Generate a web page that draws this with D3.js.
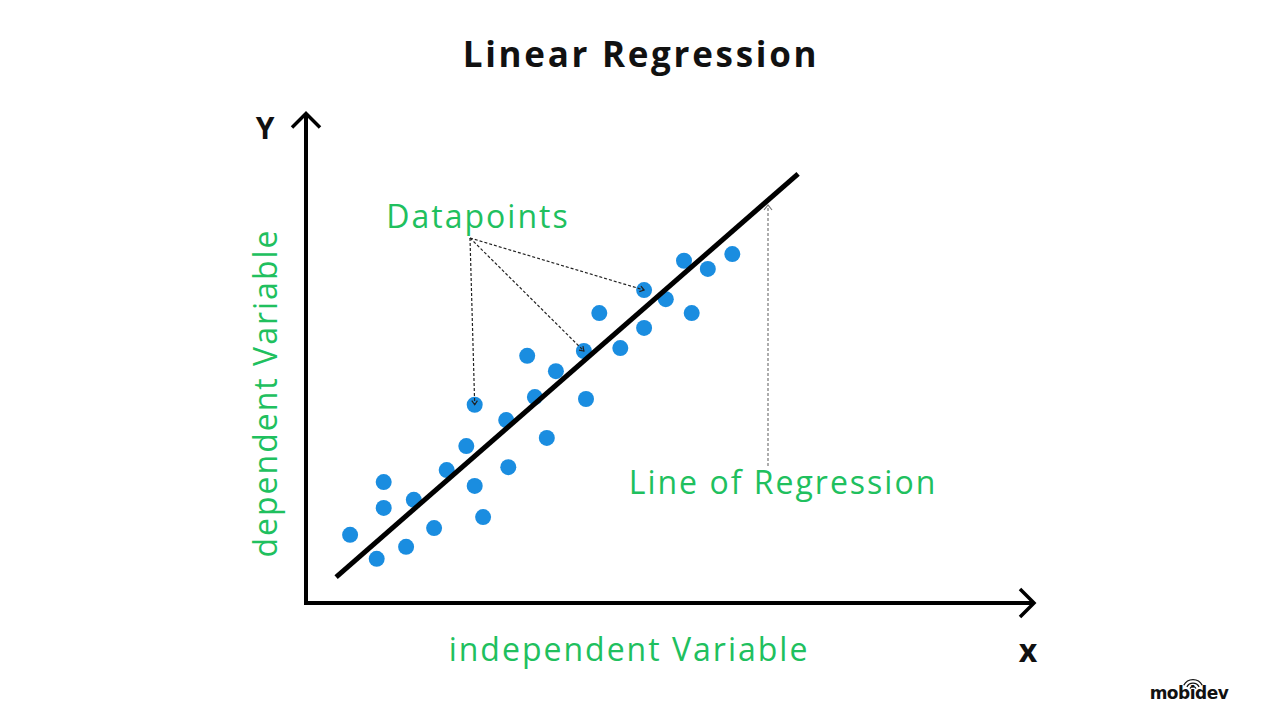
<!DOCTYPE html>
<html><head><meta charset="utf-8">
<script src="https://cdn.jsdelivr.net/npm/d3@7"></script>
<style>body{margin:0;background:#fff}svg{display:block}</style>
</head><body>
<svg id="c" width="1280" height="720"></svg>
<script>
const pointsX = [6.3,10.1,11.1,11.1,14.3,15.4,18.3,20.1,22.9,24.1,24.1,25.3,28.6,28.9,31.6,32.7,34.4,35.7,39.7,40.0,41.9,44.9,48.3,48.3,51.4,54.0,55.1,57.4,60.9];
const pointsY = [14.2,9.2,25.2,19.8,11.7,21.5,15.6,27.7,32.7,41.3,24.4,17.9,38.1,28.3,51.5,42.9,34.4,48.3,52.5,42.5,60.4,53.1,65.2,57.3,63.3,71.3,60.4,69.6,72.7];
const lineX = [4.3, 70.3];
const lineY = [5.4, 89.4];
const annotatedIdx = [9, 18, 22];
const title = "Linear Regression";

const svg = d3.select("#c");
const green = "#20c05e", blue = "#1a8de0";
const x = d3.scaleLinear().domain([0,100]).range([306,1006]);
const y = d3.scaleLinear().domain([0,100]).range([603,123]);
const F = "'Open Sans', sans-serif";

svg.append("text").attr("x",641).attr("y",67).attr("text-anchor","middle")
  .attr("font-family",F).attr("font-weight",700).attr("font-size",35).attr("letter-spacing",2.7).attr("fill","#111").text(title);

// axes
const ax = svg.append("g").attr("stroke","#000").attr("fill","none").attr("stroke-linecap","butt");
ax.append("path").attr("d",`M${x(0)},${y(0)+1.5}V${y(102)}`).attr("stroke-width",4);
ax.append("path").attr("d",`M${x(0)-2},${y(0)}H${x(104)}`).attr("stroke-width",4);
ax.append("path").attr("d",`M${x(0)-14},${y(102)+14}L${x(0)},${y(102)}L${x(0)+14},${y(102)+14}`).attr("stroke-width",3.5);
ax.append("path").attr("d",`M${x(104)-14},${y(0)-14}L${x(104)},${y(0)}L${x(104)-14},${y(0)+14}`).attr("stroke-width",3.5);

svg.append("text").attr("x",265).attr("y",139).attr("text-anchor","middle").attr("font-family",F)
  .attr("font-weight",700).attr("font-size",30).attr("fill","#111").text("Y");
svg.append("text").attr("x",1028).attr("y",662).attr("text-anchor","middle").attr("font-family",F)
  .attr("font-weight",700).attr("font-size",32).attr("fill","#111").text("x");

svg.append("text").attr("x",629).attr("y",661).attr("text-anchor","middle").attr("font-family",F)
  .attr("font-size",32).attr("letter-spacing",2).attr("fill",green).text("independent Variable");
svg.append("text").attr("transform","translate(277,393) rotate(-90)").attr("text-anchor","middle").attr("font-family",F)
  .attr("font-size",32).attr("letter-spacing",2).attr("fill",green).text("dependent Variable");

// points
svg.append("g").selectAll("circle").data(pointsX).join("circle")
  .attr("cx",(d)=>x(d)).attr("cy",(d,i)=>y(pointsY[i])).attr("r",8).attr("fill",blue);

// regression line
svg.append("line").attr("x1",x(lineX[0])).attr("y1",y(lineY[0])).attr("x2",x(lineX[1])).attr("y2",y(lineY[1]))
  .attr("stroke","#000").attr("stroke-width",5);

// annotations
svg.append("text").attr("x",478).attr("y",228).attr("text-anchor","middle").attr("font-family",F)
  .attr("font-size",32).attr("letter-spacing",2).attr("fill",green).text("Datapoints");
const ox = 470, oy = 238;
const ann = svg.append("g").attr("stroke","#222").attr("fill","none").attr("stroke-width",1.2);
annotatedIdx.forEach(i => {
  const tx = x(pointsX[i]), ty = y(pointsY[i]);
  const ang = Math.atan2(ty-oy, tx-ox);
  ann.append("line").attr("x1",ox).attr("y1",oy).attr("x2",tx).attr("y2",ty).attr("stroke-dasharray","3,2");
  const a = 5;
  ann.append("path").attr("d",`M${tx-a*Math.cos(ang-0.6)},${ty-a*Math.sin(ang-0.6)}L${tx},${ty}L${tx-a*Math.cos(ang+0.6)},${ty-a*Math.sin(ang+0.6)}`);
});
svg.append("text").attr("x",783).attr("y",494).attr("text-anchor","middle").attr("font-family",F)
  .attr("font-size",32).attr("letter-spacing",2).attr("fill",green).text("Line of Regression");
ann.append("line").attr("x1",768).attr("y1",466).attr("x2",768).attr("y2",205).attr("stroke","#777").attr("stroke-dasharray","3,2");
ann.append("path").attr("d","M764,210L768,205L772,210").attr("stroke","#777");

// logo
const lg = svg.append("g");
lg.append("text").attr("x",1189).attr("y",699).attr("text-anchor","middle").attr("font-family","'DejaVu Sans', sans-serif")
  .attr("font-weight",700).attr("font-size",17).attr("fill","#111").attr("letter-spacing",-0.5).text("mobidev");
[4,7.5,11].forEach(r => lg.append("path").attr("d",d3.arc()({innerRadius:r-1.3,outerRadius:r,startAngle:-1.1,endAngle:1.1}))
  .attr("transform","translate(1193,690)").attr("fill","#111"));
</script>
</body></html>
